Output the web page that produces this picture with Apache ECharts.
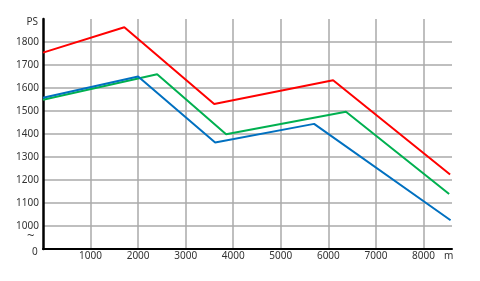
<!DOCTYPE html>
<html>
<head>
<meta charset="utf-8">
<script src="https://cdn.jsdelivr.net/npm/echarts@6/dist/echarts.min.js"></script>
<style>
    html, body { margin: 0; padding: 0; background: #fff; }
    #main { width: 480px; height: 281px; }
</style>
</head>
<body>
<div id="main"></div>
<script>
// 距离 m，功率 PS
var red_x = [0, 1710, 3600, 6100, 8560];
var red_y = [1754, 1864, 1530, 1634, 1224];
var green_x = [0, 2400, 3850, 6370, 8540];
var green_y = [1549, 1660, 1399, 1497, 1139];
var blue_x = [0, 2000, 3620, 5700, 8570];
var blue_y = [1558, 1650, 1363, 1444, 1025];

function pairs(xs, ys){
    var arr = [];
    for(var i = 0; i < xs.length; i++){
        arr.push([xs[i], ys[i]]);
    }
    return arr;
}

var txtColor = '#333';
var fontFam = 'Noto Sans';
var myChart = echarts.init(document.getElementById('main'));
var option = {
    animation: false,
    grid: { left: 43, right: 28, top: 19, bottom: 32 },
    xAxis: {
        type: 'value',
        min: 0,
        max: 8600,
        interval: 1000,
        axisLine: { show: true, lineStyle: { color: '#000', width: 2 } },
        axisTick: { show: false },
        axisLabel: {
            color: txtColor, fontFamily: fontFam, fontSize: 10, margin: 2,
            formatter: function(v){
                if(v == 0 || v > 8000) return '';
                return v;
            }
        },
        splitLine: { show: true, showMinLine: false, showMaxLine: false, lineStyle: { color: '#aaa', width: 1.5 } }
    },
    yAxis: {
        type: 'value',
        min: 900,
        max: 1900,
        interval: 100,
        axisLine: { show: true, lineStyle: { color: '#000', width: 2.5 } },
        axisTick: { show: false },
        axisLabel: {
            color: txtColor, fontFamily: fontFam, fontSize: 10, margin: 4,
            formatter: function(v){
                if(v <= 900 || v >= 1900) return '';
                return v;
            }
        },
        splitLine: { show: true, showMinLine: false, showMaxLine: false, lineStyle: { color: '#aaa', width: 1.5 } }
    },
    graphic: [
        { type: 'text', right: 442, top: 17, style: { text: 'PS', fill: txtColor, font: '10px "Noto Sans"' } },
        { type: 'text', left: 27, top: 230, style: { text: '~', fill: txtColor, font: '13px "Noto Sans"' } },
        { type: 'text', left: 32, top: 247, style: { text: '0', fill: txtColor, font: '10px "Noto Sans"' } },
        { type: 'text', left: 444, top: 251, style: { text: 'm', fill: txtColor, font: '10px "Noto Sans"' } }
    ],
    series: [
        { type: 'line', data: pairs(red_x, red_y), symbol: 'none', lineStyle: { color: '#ff0000', width: 2 } },
        { type: 'line', data: pairs(green_x, green_y), symbol: 'none', lineStyle: { color: '#00b050', width: 2 } },
        { type: 'line', data: pairs(blue_x, blue_y), symbol: 'none', lineStyle: { color: '#0070c0', width: 2 } }
    ]
};
myChart.setOption(option);
</script>
</body>
</html>
